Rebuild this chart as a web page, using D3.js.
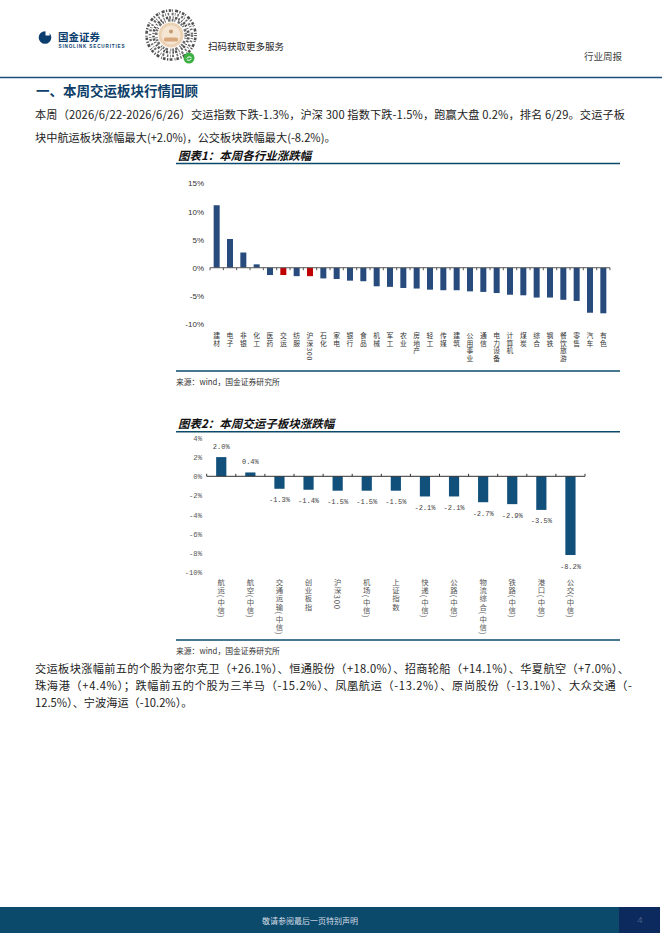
<!DOCTYPE html>
<html><head><meta charset="utf-8">
<script src="https://cdn.jsdelivr.net/npm/d3@7"></script>
<style>
html,body{margin:0;padding:0;background:#fff;}
svg{display:block;}
</style></head><body>
<svg id="page" width="662" height="936"></svg>
<script>
// ---------- data ----------
const industryCats = ["建材","电子","非银","化工","医药","交运","纺服","沪深300","石化","家电","银行","食品","机械","军工","农业","房地产","轻工","传媒","建筑","公用事业","通信","电力设备","计算机","煤炭","综合","钢铁","餐饮旅游","零售","汽车","有色"];
const industryVals = [11.1,5.1,2.7,0.6,-1.3,-1.3,-1.5,-1.5,-1.9,-2.0,-2.3,-2.4,-3.3,-3.4,-3.6,-3.7,-3.9,-4.0,-4.0,-4.2,-4.3,-4.5,-4.8,-4.9,-5.3,-5.3,-5.7,-5.9,-8.0,-8.1];
const highlightCats = ["交运","沪深300"];
const chart1Ticks = [15,10,5,0,-5,-10];

const subCats = ["航运(中信)","航空(中信)","交通运输(中信)","创业板指","沪深300","机场(中信)","上证指数","快递(中信)","公路(中信)","物流综合(中信)","铁路(中信)","港口(中信)","公交(中信)"];
const subVals = [2.0,0.4,-1.3,-1.4,-1.5,-1.5,-1.5,-2.1,-2.1,-2.7,-2.9,-3.5,-8.2];
const chart2Ticks = [4,2,0,-2,-4,-6,-8,-10];

const para1 = ["本周（2026/6/22-2026/6/26）交运指数下跌-1.3%，沪深 300 指数下跌-1.5%，跑赢大盘 0.2%，排名 6/29。交运子板",
               "块中航运板块涨幅最大(+2.0%)，公交板块跌幅最大(-8.2%)。"];
const para2 = ["交运板块涨幅前五的个股为密尔克卫（+26.1%）、恒通股份（+18.0%）、招商轮船（+14.1%）、华夏航空（+7.0%）、",
               "珠海港（+4.4%）；跌幅前五的个股为三羊马（-15.2%）、凤凰航运（-13.2%）、原尚股份（-13.1%）、大众交通（-",
               "12.5%）、宁波海运（-10.2%）。"];

// ---------- page ----------
const CJK = "'Noto Sans CJK SC','Noto Sans',sans-serif";
const svg = d3.select("#page");
svg.append("rect").attr("width",662).attr("height",936).attr("fill","#fff");

// header: logo
const logo = svg.append("g");
logo.append("circle").attr("cx",45).attr("cy",37.5).attr("r",6.3).attr("fill","#0b3d6e");
logo.append("rect").attr("x",45.5).attr("y",30).attr("width",4.2).attr("height",5.5).attr("fill","#fff");
logo.append("text").attr("x",58).attr("y",40.5).attr("font-family",CJK).attr("font-weight","bold")
  .attr("font-size",10.5).attr("fill","#0b3d6e").text("国金证券");
logo.append("text").attr("x",58.5).attr("y",47.5).attr("font-family","'Liberation Sans',Arial,sans-serif").attr("font-weight","bold")
  .attr("font-size",4.6).attr("fill","#0b3d6e").attr("textLength",66).text("SINOLINK SECURITIES");

// header: mini-program code (decorative)
const qr = svg.append("g").attr("transform","translate(171,35)");
const ringPatterns = ["1.2 1.6 2.5 1 0.8 2.2 3 1.4","2 1.2 0.8 1.8 1.5 2.6","0.9 1.5 2.2 1.1 1.6 2","1.8 1 1 2.4 2.6 1.2"];
[24.5,21,17.5,14.8].forEach((r,k)=>{
  qr.append("circle").attr("r",r).attr("fill","none").attr("stroke",k%2?"#555":"#333")
    .attr("stroke-width",2.6).attr("stroke-dasharray",ringPatterns[k]).attr("opacity",0.85);
});
qr.append("circle").attr("r",12.5).attr("fill","#ecd2b5");
qr.append("circle").attr("r",9.5).attr("fill","#f5e6d4");
qr.append("rect").attr("x",-7).attr("y",2.5).attr("width",14).attr("height",4).attr("rx",1.5).attr("fill","#d8a77c");
qr.append("circle").attr("cx",0).attr("cy",-3.5).attr("r",2).attr("fill","#c49a74");
qr.append("circle").attr("cx",18).attr("cy",23).attr("r",5.5).attr("fill","#3cb043");
qr.append("path").attr("d","M15.5 23.5 q2.5 -3 5 -1 M16 25 q2.5 1 4.5 -1").attr("stroke","#fff").attr("stroke-width",1).attr("fill","none");

svg.append("text").attr("x",208).attr("y",50).attr("font-family",CJK).attr("font-size",9.5).attr("fill","#222").text("扫码获取更多服务");
svg.append("text").attr("x",584).attr("y",60).attr("font-family",CJK).attr("font-size",9.5).attr("fill","#444").text("行业周报");
svg.append("line").attr("x1",0).attr("x2",662).attr("y1",77.5).attr("y2",77.5).attr("stroke","#1f4e79").attr("stroke-width",1.6);

// section title
svg.append("text").attr("x",36).attr("y",90).attr("dominant-baseline","central").attr("font-family",CJK)
  .attr("font-weight","bold").attr("font-size",13.5).attr("fill","#0e3f6a").text("一、本周交运板块行情回顾");

// paragraph 1
svg.append("text").attr("x",35).attr("y",114).attr("dominant-baseline","central").attr("font-family",CJK)
  .attr("font-size",11.2).attr("fill","#222").attr("textLength",590).attr("lengthAdjust","spacing").text(para1[0]);
svg.append("text").attr("x",35).attr("y",137).attr("dominant-baseline","central").attr("font-family",CJK)
  .attr("font-size",11.2).attr("fill","#222").text(para1[1]);

// ---------- helpers ----------
function verticalLabel(g, text, cx, top, fs, gap, fill) {
  g.append("text").attr("x",cx).attr("y",top)
    .attr("style","writing-mode:vertical-rl;text-orientation:mixed")
    .attr("font-family",CJK).attr("font-size",fs).attr("letter-spacing",gap).attr("fill",fill).text(text);
}
function chartFrame(titleText, titleY, lineY, bottomY) {
  svg.append("text").attr("x",178).attr("y",titleY).attr("dominant-baseline","central").attr("font-family",CJK)
    .attr("font-weight","bold").attr("font-style","italic").attr("font-size",11.5).attr("fill","#111").text(titleText);
  svg.append("line").attr("x1",176).attr("x2",620).attr("y1",lineY).attr("y2",lineY).attr("stroke","#0b4a6b").attr("stroke-width",1.5);
  svg.append("line").attr("x1",176).attr("x2",620).attr("y1",bottomY).attr("y2",bottomY).attr("stroke","#0b4a6b").attr("stroke-width",1.5);
  svg.append("text").attr("x",176).attr("y",bottomY + 10).attr("dominant-baseline","central").attr("font-family",CJK)
    .attr("font-size",7.8).attr("fill","#333").text("来源：wind，国金证券研究所");
}

// ---------- chart 1 ----------
chartFrame("图表1：本周各行业涨跌幅", 155, 163.5, 371);
const x1 = d3.scaleBand().domain(industryCats).range([210,610]).paddingInner(0.55).paddingOuter(0.275);
const y1 = d3.scaleLinear().domain([-10,15]).range([324,183.3]);
const g1 = svg.append("g");
const ax1 = g1.append("g").attr("transform","translate(204,0)")
  .call(d3.axisLeft(y1).tickValues(chart1Ticks).tickSize(0).tickPadding(0).tickFormat(d=>d+"%"));
ax1.select(".domain").remove();
ax1.selectAll("text").attr("font-family","'Liberation Sans',Arial,sans-serif").attr("font-size",8).attr("fill","#333");
g1.selectAll("rect.bar").data(industryVals).join("rect").attr("class","bar")
  .attr("x",(d,i)=>x1(industryCats[i])).attr("width",x1.bandwidth())
  .attr("y",d=>y1(Math.max(0,d))).attr("height",d=>Math.abs(y1(d)-y1(0)))
  .attr("fill",(d,i)=>highlightCats.includes(industryCats[i]) ? "#c00000" : "#284b7d");
const xa1 = g1.append("g").attr("transform",`translate(0,${y1(0)})`)
  .call(d3.axisBottom(x1).tickSize(0).tickFormat(""));
xa1.select(".domain").attr("stroke","#555").attr("d","M210,0H610");
const step1 = x1.step();
g1.selectAll("line.tk").data(d3.range(industryCats.length+1)).join("line").attr("class","tk")
  .attr("x1",i=>210+i*step1).attr("x2",i=>210+i*step1).attr("y1",y1(0)).attr("y2",y1(0)+2.5).attr("stroke","#555");
industryCats.forEach((c)=>{
  verticalLabel(g1, c, x1(c)+x1.bandwidth()/2, 332.5, 6.8, 0.7, "#333");
});

// ---------- chart 2 ----------
chartFrame("图表2：本周交运子板块涨跌幅", 423, 431.7, 640);
const x2 = d3.scaleBand().domain(subCats).range([206.7,585]).paddingInner(0.65).paddingOuter(0.325);
const y2 = d3.scaleLinear().domain([-10,4]).range([572.3,437.9]);
const g2 = svg.append("g");
const ax2 = g2.append("g").attr("transform","translate(202,0)")
  .call(d3.axisLeft(y2).tickValues(chart2Ticks).tickSize(0).tickPadding(0).tickFormat(d=>d+"%"));
ax2.select(".domain").remove();
ax2.selectAll("text").attr("font-family","'Liberation Mono',monospace").attr("font-size",7.2).attr("fill","#555");
g2.selectAll("rect.bar").data(subVals).join("rect").attr("class","bar")
  .attr("x",(d,i)=>x2(subCats[i])).attr("width",x2.bandwidth())
  .attr("y",d=>y2(Math.max(0,d))).attr("height",d=>Math.abs(y2(d)-y2(0)))
  .attr("fill","#11507a");
const xa2 = g2.append("g").attr("transform",`translate(0,${y2(0)})`)
  .call(d3.axisBottom(x2).tickSize(0).tickFormat(""));
xa2.select(".domain").attr("stroke","#333").attr("d","M206.7,0H585");
const step2 = x2.step();
g2.selectAll("line.tk").data(d3.range(subCats.length+1)).join("line").attr("class","tk")
  .attr("x1",i=>206.7+i*step2).attr("x2",i=>206.7+i*step2).attr("y1",y2(0)-2.5).attr("y2",y2(0)).attr("stroke","#333");
g2.selectAll("text.val").data(subVals).join("text").attr("class","val")
  .attr("x",(d,i)=>x2(subCats[i])+x2.bandwidth()/2)
  .attr("y",d=> d>=0 ? y2(d)-10 : y2(d)+11.5)
  .attr("text-anchor","middle").attr("dominant-baseline","central")
  .attr("font-family","'Liberation Mono',monospace").attr("font-size",7).attr("fill","#444")
  .text(d=>d.toFixed(1)+"%");
subCats.forEach((c)=>{
  verticalLabel(g2, c, x2(c)+x2.bandwidth()/2, 578, 7.4, 1.0, "#555");
});

// paragraph 2
const p2y = [668,685,702];
para2.forEach((t,i)=>{
  const el = svg.append("text").attr("x",35).attr("y",p2y[i]).attr("dominant-baseline","central").attr("font-family",CJK)
    .attr("font-size",11.2).attr("fill","#222").text(t);
  if (i < 2) el.attr("textLength", i===0 ? 594 : 597).attr("lengthAdjust","spacing");
});

// footer
svg.append("rect").attr("x",0).attr("y",907).attr("width",619).attr("height",26).attr("fill","#0b4a6b");
svg.append("rect").attr("x",619).attr("y",907).attr("width",41).attr("height",26).attr("fill","#0c2a5e");
svg.append("text").attr("x",310).attr("y",920).attr("text-anchor","middle").attr("dominant-baseline","central")
  .attr("font-family",CJK).attr("font-size",8).attr("fill","#d5dde6").text("敬请参阅最后一页特别声明");
svg.append("text").attr("x",640).attr("y",920).attr("text-anchor","middle").attr("dominant-baseline","central")
  .attr("font-family","'Liberation Sans',Arial,sans-serif").attr("font-size",9).attr("fill","#4a6088").text("4");
</script>
</body></html>
